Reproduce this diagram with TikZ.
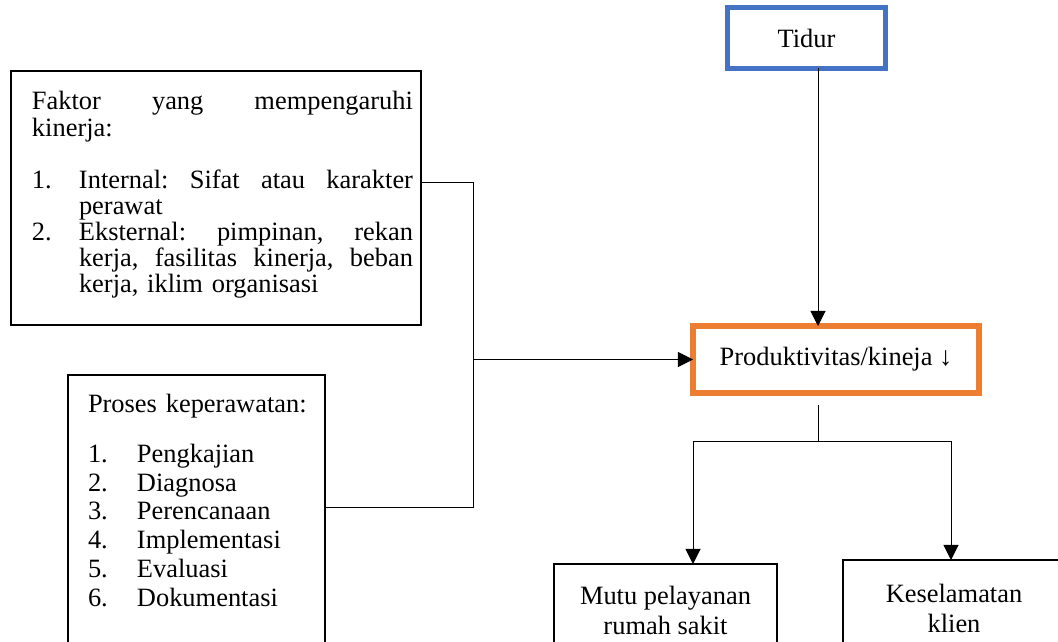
\documentclass[tikz,border=0pt]{standalone}
\usepackage{fontspec}
\setmainfont{Liberation Serif}
\usetikzlibrary{arrows.meta}
\usetikzlibrary{positioning}

\definecolor{wordblue}{HTML}{4472C4}
\definecolor{wordorange}{HTML}{ED7D31}

\begin{document}
\begin{tikzpicture}[
			box/.style = {
				rectangle, draw = black, line width = 1.3pt,
				inner sep = 0, outer sep = 0, align = center,
				font = \fontsize{18.8}{21.3}\selectfont,
			},
			listtext/.style = {
				inner sep = 0, outer sep = 0,
				anchor = base west, align = left,
			},
			line/.style = {draw = black, line width = 0.7pt},
			arrow/.style = {line, -{Triangle[length = 3.8mm, width = 3.8mm]}},
		]

		\useasboundingbox (0, 0) rectangle (26.45, -16.025);
		\clip (0, 0) rectangle (26.45, -16.025);

		% right column
		\node[
			box, draw = wordblue, line width = 3.6pt,
			minimum width = 3.95cm, minimum height = 1.525cm,
		] (tidur) at (20.1625, -0.95) {Tidur};

		\node[
			box, draw = wordorange, line width = 4.3pt,
			minimum width = 7.15cm, minimum height = 1.675cm,
		] (prod) at (20.9, -8.9875) {Produktivitas/kineja ↓};

		\node[
			box, minimum width = 5.575cm, minimum height = 2.3cm,
		] (mutu) at (16.6375, -15.25) {Mutu pelayanan\\rumah sakit};
		\node[
			box, minimum width = 5.55cm, minimum height = 2.4cm,
			right = 1.65cm of mutu, yshift = 0.05cm,
		] (kes) {Keselamatan\\klien};

		% left column
		\node[
			box, minimum width = 10.25cm, minimum height = 6.35cm,
		] (faktor) at (5.4, -4.95) {};
		\node[
			listtext, text width = 9.525cm,
			font = \fontsize{18.8}{18.5}\selectfont,
		] (faktortext) at ([shift = {(0.525, -0.975)}]faktor.north west) {%
			Faktor\hfill yang\hfill mempengaruhi\\
			kinerja:\\[18.5pt]
			\makebox[1.175cm][l]{1.}Internal:\hfill Sifat\hfill atau\hfill karakter\\
			\hspace*{1.175cm}perawat\\
			\makebox[1.175cm][l]{2.}Eksternal:\hfill pimpinan,\hfill rekan\\
			\hspace*{1.175cm}kerja,\hfill fasilitas\hfill kinerja,\hfill beban\\
			\hspace*{1.175cm}kerja, iklim organisasi};

		\node[
			box, minimum width = 6.425cm, minimum height = 7.25cm,
		] (proses) at (4.9125, -13.0) {};
		\node[
			listtext, text width = 5.6cm,
			font = \fontsize{18.8}{20.6}\selectfont,
		] (prosestext) at ([shift = {(0.5, -0.925)}]proses.north west) {%
			Proses keperawatan:\\[15pt]
			\makebox[1.225cm][l]{1.}Pengkajian\\
			\makebox[1.225cm][l]{2.}Diagnosa\\
			\makebox[1.225cm][l]{3.}Perencanaan\\
			\makebox[1.225cm][l]{4.}Implementasi\\
			\makebox[1.225cm][l]{5.}Evaluasi\\
			\makebox[1.225cm][l]{6.}Dokumentasi};

		% connectors
		\coordinate (jtop) at (11.825, -4.55);
		\coordinate (jbot) at (11.825, -12.675);
		\draw[line] (jtop -| faktor.east) -- (jtop) -- (jbot) -- (jbot -| proses.east);
		\draw[arrow] (jtop |- prod.west) -- (prod.west);

		\coordinate (split) at (20.45, -11.025);
		\draw[arrow] (split |- tidur.south) -- (split |- prod.north);
		\draw[line, shorten <= 0.3cm] (split |- prod.south) -- (split);
		\draw[arrow] (split) -| ([xshift = 0.6875cm]mutu.north);
		\draw[arrow] (split) -| ([xshift = -0.075cm]kes.north);

	\end{tikzpicture}
\end{document}
